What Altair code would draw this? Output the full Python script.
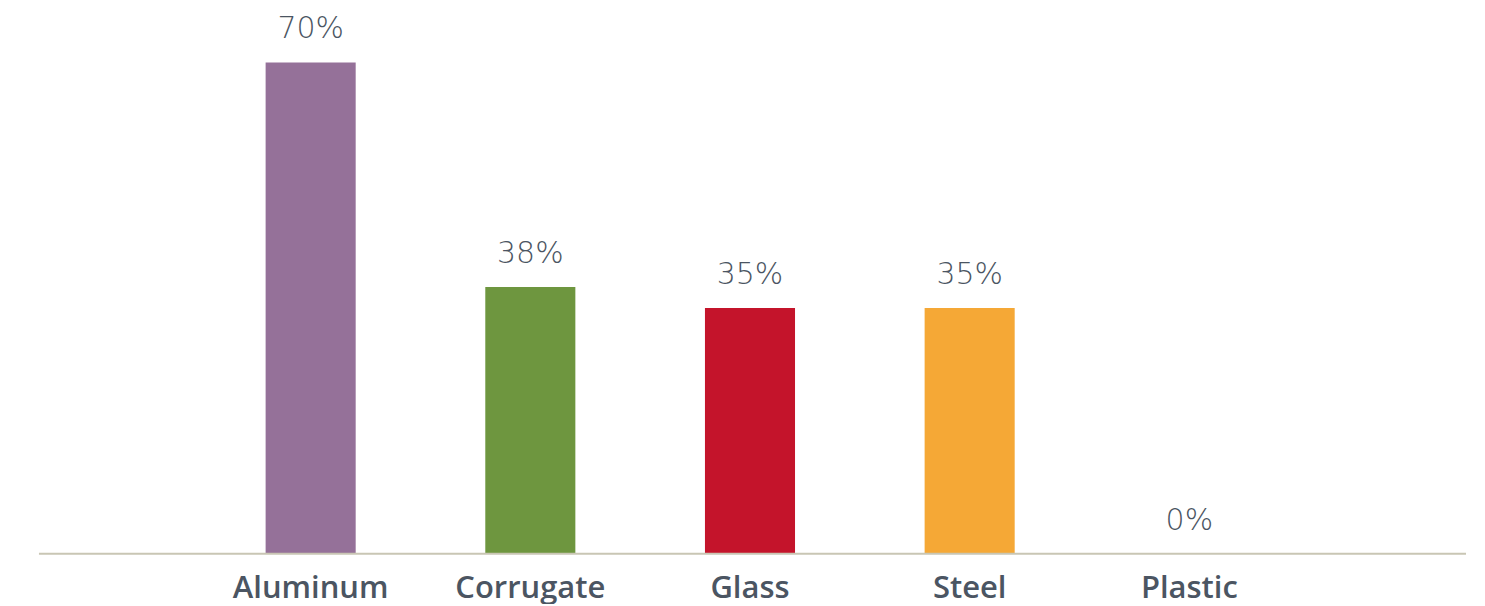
import altair as alt
import pandas as pd

categories = ["Aluminum", "Corrugate", "Glass", "Steel", "Plastic"]
values = [70, 38, 35, 35, 0]
colors = ["#957199", "#6e963f", "#c4142b", "#f5a836", "#ffffff"]

df = pd.DataFrame({"cat": categories, "val": values, "color": colors,
                   "label": [f"{v}%" for v in values]})

x = alt.X("cat:N", sort=categories,
          scale=alt.Scale(paddingInner=0.59, paddingOuter=1.0, range=[7, 1417]),
          axis=alt.Axis(title=None, labelAngle=0, ticks=False, domain=False,
                        labelFont="Open Sans", labelFontSize=31, labelFontWeight=600,
                        labelColor="#4b5562", labelPadding=20))
y = alt.Y("val:Q", scale=alt.Scale(domain=[0, 77.7], nice=False, zero=True),
          axis=None)

bars = alt.Chart(df).mark_bar().encode(
    x=x, y=y, color=alt.Color("color:N", scale=None)
)
baseline = alt.Chart(pd.DataFrame({"base": [0]})).mark_rule(
    color="#c9c6b4", strokeWidth=2
).encode(
    y=alt.Y("base:Q", scale=alt.Scale(domain=[0, 77.7], nice=False, zero=True), axis=None),
    x=alt.value(0), x2=alt.value(1429)
)
text = alt.Chart(df).mark_text(
    dy=-24, font="DejaVu Sans", fontSize=30, fontWeight=300, color="#4b5562",
    baseline="alphabetic"
).encode(x=x, y=y, text="label:N")

chart = (bars + baseline + text).properties(
    width=1429, height=546,
    padding={"left": 30, "top": 0, "right": 10, "bottom": 0}
).configure_view(stroke=None)

chart.save("out.html", embed_options={"renderer": "svg", "actions": False})
